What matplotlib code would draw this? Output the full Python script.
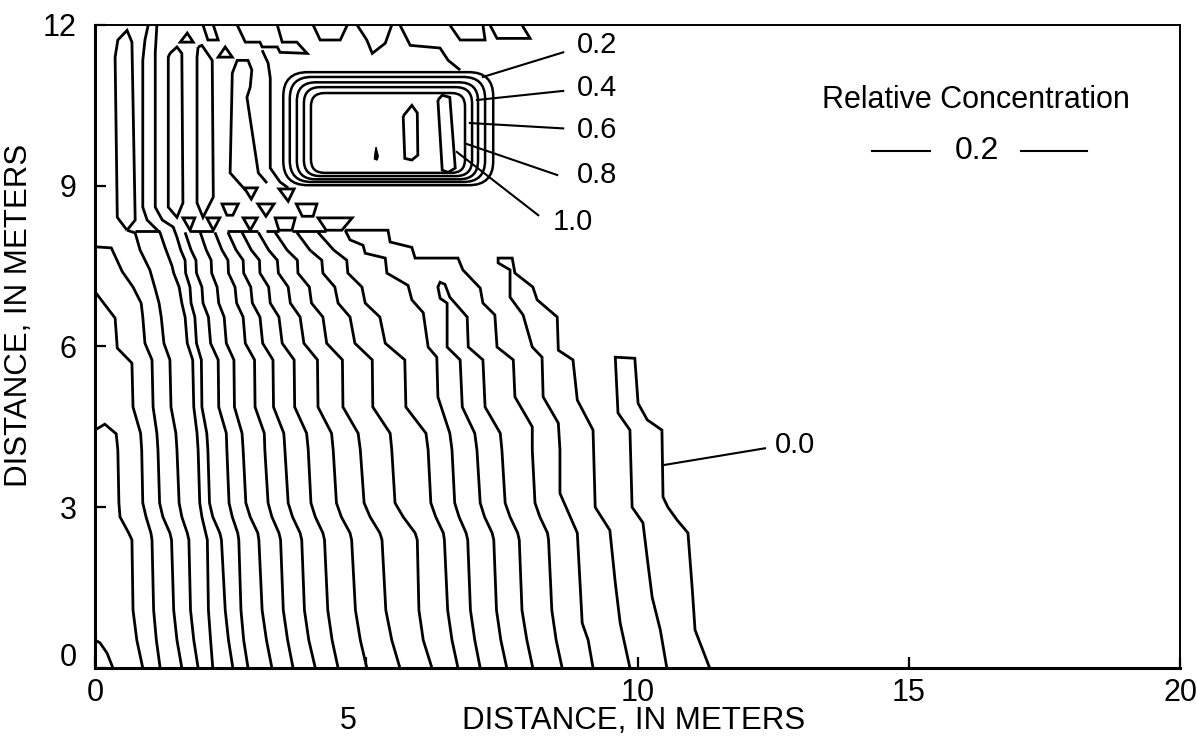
#!/usr/bin/env python3
# Relative concentration contours, 20 m x 12 m section (plume below the source block)

import matplotlib
matplotlib.use('Agg')
import matplotlib.pyplot as plt
import matplotlib.font_manager
import matplotlib.transforms
from matplotlib.patches import FancyBboxPatch, Polygon

######################################################################
# Contour traces, in meters
######################################################################

# rows where the plume contours step sideways (shared by the middle lines)
jog_y = [8.13, 7.80, 7.61, 7.37, 7.11, 6.81, 6.55, 6.06, 5.75, 4.87, 4.38, 4.07,
         3.08, 2.82, 2.52, 2.39, 1.08, 0.52, 0.0]
jog_x = [
    [1.66, 1.77, 1.86, 1.87, 1.97, 1.99, 2.09, 2.13, 2.27, 2.28, 2.42, 2.43, 2.47, 2.53, 2.63, 2.65, 2.69, 2.74, 2.82],
    [1.94, 2.05, 2.14, 2.15, 2.25, 2.28, 2.38, 2.42, 2.56, 2.57, 2.71, 2.73, 2.78, 2.86, 3.00, 3.02, 3.08, 3.16, 3.26],
    [2.21, 2.34, 2.45, 2.46, 2.58, 2.61, 2.73, 2.77, 2.94, 2.95, 3.12, 3.13, 3.19, 3.26, 3.39, 3.42, 3.47, 3.55, 3.65],
    [2.45, 2.60, 2.73, 2.74, 2.87, 2.90, 3.04, 3.09, 3.28, 3.29, 3.48, 3.50, 3.56, 3.64, 3.78, 3.81, 3.86, 3.94, 4.06],
    [2.71, 2.88, 3.03, 3.04, 3.20, 3.23, 3.39, 3.45, 3.67, 3.68, 3.90, 3.93, 3.98, 4.06, 4.20, 4.23, 4.29, 4.37, 4.48],
    [3.01, 3.20, 3.36, 3.38, 3.56, 3.60, 3.78, 3.85, 4.10, 4.11, 4.36, 4.39, 4.45, 4.54, 4.70, 4.73, 4.80, 4.89, 5.01],
    [3.32, 3.54, 3.73, 3.74, 3.95, 3.99, 4.20, 4.27, 4.56, 4.57, 4.85, 4.89, 4.96, 5.07, 5.25, 5.29, 5.36, 5.47, 5.62],
    [3.72, 3.96, 4.18, 4.20, 4.42, 4.48, 4.70, 4.79, 5.11, 5.12, 5.44, 5.47, 5.53, 5.68, 5.90, 5.94, 5.97, 6.05, 6.21],
    [4.11, 4.40, 4.64, 4.66, 4.92, 4.98, 5.25, 5.35, 5.71, 5.73, 6.10, 6.14, 6.19, 6.28, 6.42, 6.44, 6.50, 6.58, 6.69],
]

# lines leaving the left edge
edge1_x = [0.0, 0.18, 0.39, 0.42, 0.44, 0.46, 0.62, 0.68, 0.70, 0.77, 0.88]
edge1_y = [4.44, 4.55, 4.37, 4.07, 3.08, 2.82, 2.52, 2.39, 1.08, 0.52, 0.0]
edge2_x = [0.0, 0.37, 0.41, 0.68, 0.70, 0.84, 0.86, 0.88, 0.94, 1.03, 1.05, 1.08, 1.13, 1.20]
edge2_y = [7.02, 6.53, 5.97, 5.69, 4.87, 4.38, 4.07, 3.08, 2.82, 2.52, 2.39, 1.08, 0.52, 0.0]
edge3_x = [0.0, 0.30, 0.50, 0.70, 0.85, 0.88, 0.92, 1.05, 1.07, 1.14, 1.16, 1.19, 1.25, 1.38, 1.41, 1.45, 1.51, 1.60]
edge3_y = [7.86, 7.84, 7.40, 7.11, 6.81, 6.55, 6.06, 5.75, 4.87, 4.38, 4.07, 3.08, 2.82, 2.52, 2.39, 1.08, 0.52, 0.0]
corner_x = [0.0, 0.09, 0.22, 0.33]
corner_y = [0.52, 0.47, 0.28, 0.0]

# long lines running down from the top
long1_x = [0.59, 0.74, 0.83, 1.01, 1.10, 1.18, 1.22, 1.27, 1.38, 1.40, 1.49, 1.51, 1.55, 1.60, 1.70, 1.73, 1.76, 1.82, 1.90]
long1_y = [8.17, 8.12, 7.80, 7.43, 7.11, 6.81, 6.55, 6.06, 5.75, 4.87, 4.38, 4.07, 3.08, 2.82, 2.52, 2.39, 1.08, 0.52, 0.0]
long2_x = [0.98, 0.92, 0.88, 0.88, 0.96, 1.20, 1.29, 1.42, 1.45, 1.55, 1.60, 1.66, 1.70, 1.80, 1.82, 1.88, 1.90, 1.93,
           1.97, 2.04, 2.07, 2.09, 2.13, 2.17]
long2_y = [12.0, 11.72, 11.34, 8.60, 8.36, 8.12, 7.85, 7.50, 7.37, 7.11, 6.81, 6.55, 6.06, 5.75, 4.87, 4.38, 4.07, 3.08,
           2.82, 2.52, 2.39, 1.08, 0.52, 0.0]
long3_x = [1.14, 1.11, 1.11, 1.24, 1.44, 1.51, 1.58, 1.66, 1.67, 1.75, 1.77, 1.84, 1.87, 1.96, 1.97, 2.06, 2.08, 2.11,
           2.17, 2.30, 2.33, 2.40, 2.46, 2.54]
long3_y = [12.0, 11.48, 8.60, 8.36, 8.23, 8.04, 7.80, 7.61, 7.37, 7.11, 6.81, 6.55, 6.06, 5.75, 4.87, 4.38, 4.07, 3.08,
           2.82, 2.52, 2.39, 1.08, 0.52, 0.0]

# right part of the plume
mid1_x = [4.61, 4.70, 4.94, 4.98, 5.35, 5.38, 5.77, 5.84, 6.05, 6.14, 6.30, 6.32, 6.54, 6.58,
          6.63, 6.71, 6.84, 6.87, 6.92, 7.00, 7.10]
mid1_y = [8.17, 7.99, 7.89, 7.74, 7.65, 7.37, 7.14, 6.87, 6.63, 5.99, 5.80, 5.06, 4.38, 4.07,
          3.08, 2.82, 2.52, 2.39, 1.08, 0.52, 0.0]
loop2_x = [7.59, 7.48, 7.40, 7.35, 7.32, 7.18, 7.10, 7.04, 7.00, 6.77, 6.73, 6.49, 6.49, 6.36, 6.32, 6.36,
           6.45, 6.54, 6.86, 6.88, 7.15, 7.19, 7.47, 7.50, 7.56, 7.65, 7.79, 7.82, 7.87, 7.96, 8.07]
loop2_y = [0.0, 0.52, 1.08, 2.39, 2.52, 2.82, 3.08, 4.07, 4.38, 4.87, 5.75, 5.99, 6.81, 6.90, 7.11, 7.20,
           7.16, 6.92, 6.55, 5.99, 5.75, 4.87, 4.38, 4.07, 3.08, 2.82, 2.52, 2.39, 1.08, 0.52, 0.0]
step_x = [4.61, 5.40, 5.44, 5.84, 5.90, 6.69, 6.78, 7.10, 7.15, 7.37, 7.41, 7.71, 7.74, 8.06, 8.06,
          8.11, 8.20, 8.34, 8.36, 8.42, 8.50, 8.61]
step_y = [8.17, 8.17, 7.95, 7.85, 7.65, 7.65, 7.43, 7.09, 6.81, 6.59, 5.99, 5.75, 5.06, 4.50, 4.07,
          3.08, 2.82, 2.52, 2.39, 1.08, 0.52, 0.0]
loop1_x = [9.18, 9.09, 8.98, 8.89, 8.57, 8.57, 8.54, 8.26, 8.24, 8.06, 7.89, 7.65, 7.65, 7.43, 7.43,
           7.69, 7.74, 8.07, 8.15, 8.52, 8.54, 8.81, 8.89, 9.18, 9.22, 9.49, 9.59, 9.68, 9.86]
loop1_y = [0.0, 0.52, 0.84, 2.52, 3.26, 4.07, 4.57, 5.06, 5.80, 5.99, 6.59, 6.92, 7.43, 7.56, 7.65,
           7.65, 7.37, 7.11, 6.87, 6.55, 5.93, 5.75, 5.0, 4.44, 3.00, 2.57, 1.59, 0.84, 0.0]
front_x = [10.54, 10.42, 10.27, 10.19, 10.10, 9.90, 9.86, 9.64, 9.59,
           9.95, 10.01, 10.18, 10.45, 10.47, 10.56, 10.73, 10.93, 11.01, 11.06, 11.33]
front_y = [0.0, 0.71, 1.32, 1.96, 2.71, 3.00, 4.44, 4.76, 5.80,
           5.78, 4.94, 4.63, 4.44, 3.19, 3.00, 2.76, 2.52, 1.46, 0.71, 0.0]

# upper left, above the step at 8.1 m
upper1_x = [0.59, 0.41, 0.37, 0.42, 0.59, 0.68, 0.74, 0.59]
upper1_y = [8.17, 8.41, 11.40, 11.72, 11.90, 11.68, 8.36, 8.17]
upper2_x = [1.38, 1.51, 1.60, 1.62, 1.51, 1.35, 1.35, 1.38]
upper2_y = [11.47, 11.59, 11.47, 8.68, 8.41, 8.60, 11.40, 11.47]
upper3_x = [1.90, 1.97, 2.16, 2.18, 1.99, 1.88, 1.88, 1.90]
upper3_y = [11.59, 11.62, 11.34, 8.79, 8.41, 8.68, 11.40, 11.59]
upper4_x = [2.77, 2.49, 2.53, 2.62, 2.82, 2.89, 2.86, 2.80, 3.01, 3.17]
upper4_y = [8.92, 9.24, 11.10, 11.34, 11.34, 11.16, 10.84, 10.65, 9.24, 9.05]
upper5_x = [3.08, 3.19, 3.23, 3.23, 3.41, 3.56]
upper5_y = [11.53, 11.29, 11.01, 9.33, 9.07, 8.96]

# jagged contours along the top edge
top_zigzags = [
    ([1.99, 2.08, 2.27, 2.18], [12.0, 11.72, 11.72, 12.0]),
    ([2.62, 2.77, 3.04, 3.08, 3.36, 3.41, 3.91, 3.72, 3.45, 3.36], [12.0, 11.68, 11.68, 11.59, 11.59, 11.49, 11.47, 11.68, 11.68, 12.0]),
    ([4.02, 4.15, 4.52, 4.65], [12.0, 11.72, 11.72, 12.0]),
    ([4.83, 5.01, 5.11, 5.35, 5.47], [12.0, 11.72, 11.47, 11.66, 12.0]),
    ([5.62, 5.81, 6.36, 6.51, 6.73], [12.0, 11.62, 11.57, 11.34, 11.16]),
    ([6.54, 6.73, 7.19, 7.15], [12.0, 11.72, 11.72, 12.0]),
    ([7.28, 7.41, 8.02, 7.87], [12.0, 11.75, 11.75, 12.0]),
]

# short pieces of the step at about 8.15 m
step_pieces = [([0.74, 1.20], [8.15, 8.15]), ([1.75, 2.18], [8.15, 8.15]), ([2.43, 3.00], [8.15, 8.15]),
               ([3.15, 3.39], [8.15, 8.15]), ([3.63, 4.26], [8.15, 8.15])]

# small closed cells along the step and the top
cells = [
    [(1.62, 8.40), (1.84, 8.40), (1.75, 8.17)],
    [(2.06, 8.40), (2.30, 8.40), (2.18, 8.17)],
    [(2.73, 8.40), (2.99, 8.40), (2.86, 8.17)],
    [(2.34, 8.66), (2.64, 8.66), (2.54, 8.45), (2.43, 8.45)],
    [(2.75, 8.96), (2.99, 8.96), (2.88, 8.75)],
    [(3.00, 8.66), (3.30, 8.66), (3.15, 8.43)],
    [(3.39, 8.94), (3.67, 8.94), (3.56, 8.71)],
    [(3.71, 8.66), (4.09, 8.66), (4.02, 8.43), (3.82, 8.43)],
    [(3.32, 8.40), (3.69, 8.40), (3.63, 8.17), (3.39, 8.17)],
    [(4.11, 8.40), (4.74, 8.40), (4.55, 8.17), (4.26, 8.17)],
    [(1.70, 11.85), (1.57, 11.68), (1.81, 11.68)],
    [(2.40, 11.59), (2.27, 11.40), (2.53, 11.40)],
]

# source block: nested rings, outer to inner
ring_left = [3.47, 3.59, 3.72, 3.85, 3.98]
ring_right = [7.34, 7.19, 7.06, 6.95, 6.82]
ring_top = [11.12, 11.03, 10.93, 10.84, 10.73]
ring_bottom = [9.01, 9.07, 9.12, 9.18, 9.24]
ring_round = [0.45, 0.40, 0.35, 0.30, 0.25]

peak1_x = [6.32, 6.40, 6.54, 6.64, 6.51, 6.40, 6.32]
peak1_y = [10.60, 10.69, 10.65, 9.33, 9.25, 9.29, 10.60]
peak2_x = [5.68, 5.84, 5.94, 5.95, 5.84, 5.71, 5.68]
peak2_y = [10.30, 10.50, 10.36, 9.57, 9.48, 9.51, 10.30]
speck = [(5.18, 9.72), (5.22, 9.55), (5.20, 9.48), (5.15, 9.50), (5.16, 9.60)]

# contour labels and their leaders
label_text = ['0.2', '0.4', '0.6', '0.8', '1.0', '0.0']
label_x = [8.88, 8.88, 8.88, 8.88, 8.44, 12.53]
label_y = [11.62, 10.82, 10.04, 9.20, 8.32, 4.16]
leader_start = [(7.15, 11.03), (7.04, 10.60), (6.91, 10.17), (6.82, 9.79), (6.67, 9.63), (10.50, 3.79)]
leader_end = [(8.63, 11.49), (8.63, 10.77), (8.63, 10.07), (8.52, 9.20), (8.17, 8.45), (12.35, 4.10)]

x_ticks = [0, 5, 10, 15, 20]
y_ticks = [0, 3, 6, 9, 12]


######################################################################
# Plot
######################################################################

available = {f.name for f in matplotlib.font_manager.fontManager.ttflist}
family = 'Liberation Sans' if 'Liberation Sans' in available else 'DejaVu Sans'
plt.rcParams['font.family'] = [family, 'DejaVu Sans']

LW = 2.0
fig = plt.figure(figsize=(11.97, 7.44), dpi=100)
ax = fig.add_axes([0.0794, 0.1022, 0.9064, 0.8642])


def trace(xs, ys, lw=LW):
    ax.plot(xs, ys, color='black', lw=lw, solid_joinstyle='miter', solid_capstyle='butt')


for xs in jog_x:
    trace(xs, jog_y)

for xs, ys in [(edge1_x, edge1_y), (edge2_x, edge2_y), (edge3_x, edge3_y), (corner_x, corner_y),
               (long1_x, long1_y), (long2_x, long2_y), (long3_x, long3_y),
               (mid1_x, mid1_y), (loop2_x, loop2_y), (step_x, step_y), (loop1_x, loop1_y),
               (front_x, front_y),
               (upper1_x, upper1_y), (upper2_x, upper2_y), (upper3_x, upper3_y),
               (upper4_x, upper4_y), (upper5_x, upper5_y),
               (peak1_x, peak1_y), (peak2_x, peak2_y)]:
    trace(xs, ys)

for xs, ys in top_zigzags + step_pieces:
    trace(xs, ys)

for pts in cells:
    ax.add_patch(Polygon(pts, closed=True, fill=False, ec='black', lw=LW, joinstyle='miter'))
ax.add_patch(Polygon(speck, closed=True, fc='black', ec='black', lw=1.0))

for l, r, t, b, rnd in zip(ring_left, ring_right, ring_top, ring_bottom, ring_round):
    ax.add_patch(FancyBboxPatch((l, b), r - l, t - b,
                                boxstyle='round,pad=0,rounding_size=%.2f' % rnd,
                                fill=False, ec='black', lw=1.8))

for txt, x, y, p0, p1 in zip(label_text, label_x, label_y, leader_start, leader_end):
    ax.plot([p0[0], p1[0]], [p0[1], p1[1]], color='black', lw=1.5)
    ax.text(x, y, txt, fontsize=21, ha='left', va='center')

# key in the upper right
ax.text(0.670, 0.883, 'Relative Concentration', transform=ax.transAxes,
        fontsize=22, ha='left', va='center')
ax.plot([0.716, 0.770], [0.804, 0.804], transform=ax.transAxes, color='black', lw=1.5)
ax.plot([0.853, 0.914], [0.804, 0.804], transform=ax.transAxes, color='black', lw=1.5)
ax.text(0.813, 0.804, '0.2', transform=ax.transAxes, fontsize=23, ha='center', va='center')

ax.set_xlim(0, 20)
ax.set_ylim(0, 12)
ax.set_xticks(x_ticks)
ax.set_yticks(y_ticks)
ax.tick_params(direction='in', length=8, width=1.6, labelsize=22)
ax.tick_params(axis='x', pad=7)
ax.tick_params(axis='y', pad=13)
for side in ['left', 'bottom']:
    ax.spines[side].set_linewidth(2.2)
for side in ['top', 'right']:
    ax.spines[side].set_linewidth(1.4)

ax.set_xlabel('DISTANCE, IN METERS', fontsize=22.5)
ax.set_ylabel('DISTANCE, IN METERS', fontsize=22.5)
ax.xaxis.set_label_coords(0.496, -0.059)
ax.yaxis.set_label_coords(-0.056, 0.549)

# the 5 m and 0 m labels sit off their ticks on this sheet
shift = matplotlib.transforms.ScaledTranslation
lab5 = ax.xaxis.get_major_ticks()[1].label1
lab5.set_transform(lab5.get_transform() + shift(-0.18, -0.28, fig.dpi_scale_trans))
lab0 = ax.yaxis.get_major_ticks()[0].label1
lab0.set_transform(lab0.get_transform() + shift(0.0, 0.13, fig.dpi_scale_trans))

fig.savefig('out.png', dpi=100)
